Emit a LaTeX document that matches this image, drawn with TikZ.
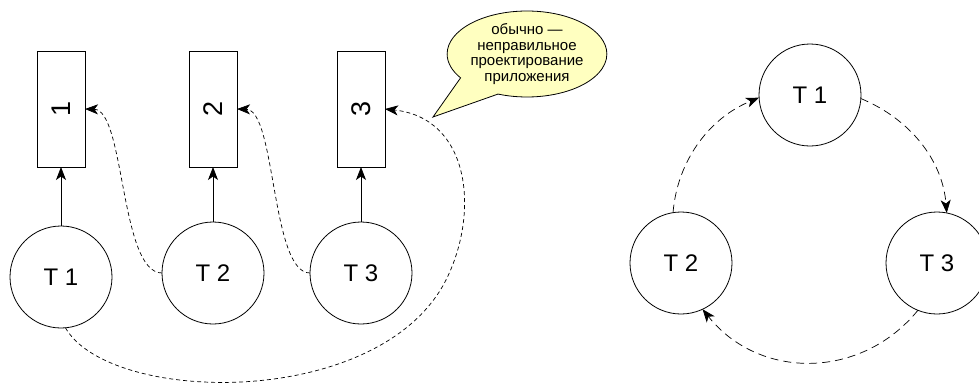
\documentclass[tikz,border=0pt]{standalone}
\usepackage{fontspec}
\setmainfont{Liberation Sans}
\usetikzlibrary{arrows.meta,shapes.callouts}

\definecolor{notefill}{RGB}{255,255,192}

\tikzset{
  x=1pt, y=1pt,
  every node/.style={inner sep=0pt, outer sep=0pt},
  thread/.style={circle, draw, line width=0.8pt, minimum size=102pt,
                 font=\fontsize{24}{28}\selectfont},
  slot/.style={rectangle, draw, line width=0.8pt, minimum width=48pt,
               minimum height=116pt, font=\fontsize{27}{30}\selectfont},
  tip/.style={-{Stealth[length=13pt, width=10pt, inset=3.5pt]}},
  solidlink/.style={tip, line width=0.8pt},
  shortdash/.style={tip, line width=0.7pt, dash pattern=on 4pt off 3pt},
  longdash/.style={tip, line width=0.7pt, dash pattern=on 8pt off 5pt},
  note/.style={ellipse callout, draw, line width=0.8pt, fill=notefill,
               minimum width=140pt, minimum height=86pt,
               callout pointer arc=35, align=center,
               font=\fontsize{15}{15.5}\selectfont}
}

\begin{document}
\begin{tikzpicture}
  \useasboundingbox (0,0) rectangle (979,-383);

  % --- left group: each thread owns its slot ---
  \node[slot] (r1) at (61,-109)  {\rotatebox{90}{1}};
  \node[slot] (r2) at (213,-109) {\rotatebox{90}{2}};
  \node[slot] (r3) at (361,-109) {\rotatebox{90}{3}};

  \node[thread] (a1) at (61,-277)  {T 1};
  \node[thread] (a2) at (213,-273) {T 2};
  \node[thread] (a3) at (361,-273) {T 3};

  \draw[solidlink] (a1.north) -- (r1.south);
  \draw[solidlink] (a2.north) -- (r2.south);
  \draw[solidlink] (a3.north) -- (r3.south);

  \draw[shortdash] (a2.west) .. controls (120,-273) and (125,-110) .. (r1.east);
  \draw[shortdash] (a3.west) .. controls (271,-273) and (276,-110) .. (r2.east);

  \coordinate (bend) at (446,-280);
  \draw[shortdash] (a1.-85) .. controls (110,-405) and (380,-410) .. (bend)
                   .. controls (480,-212) and (470,-118) .. (r3.east);

  \node[note, callout absolute pointer={(433,-117)}] (remark) at (527,-54)
    {обычно —\\неправильное\\проектирование\\приложения};

  % --- right group: threads in a ring ---
  \node[thread] (b1) at (810,-95)  {T 1};
  \node[thread] (b2) at (681,-263) {T 2};
  \node[thread] (b3) at (937,-263) {T 3};

  \draw[longdash] (b2.99) .. controls (677.4,-160.3) and (709.5,-118) .. (b1.183);
  \draw[longdash] (b1.-4) .. controls (910,-119) and (942.5,-160) .. (b3.79);
  \draw[longdash] (b3.248) .. controls (861,-380) and (759,-380) .. (b2.-65);
\end{tikzpicture}
\end{document}
